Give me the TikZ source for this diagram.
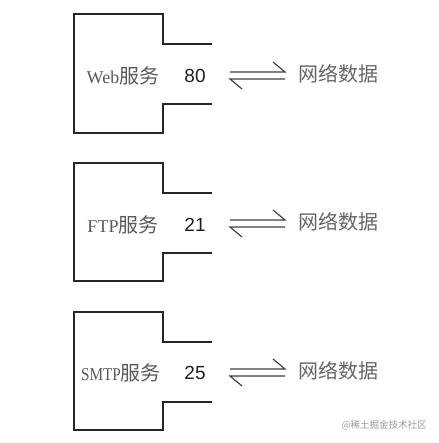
\documentclass[tikz,border=0pt]{standalone}
\usepackage{fontspec}
\setmainfont{Liberation Serif}
\newfontfamily\cjk{Noto Sans CJK SC}
\newfontfamily\numfont{Liberation Sans}
\newfontfamily\narrowserif[FakeStretch=0.85]{Liberation Serif}
\begin{document}
\begin{tikzpicture}[x=1pt,y=-1pt,
  boxline/.style={draw=black!85,line width=1.5pt},
  harp/.style={draw=black!75,line width=1.2pt},
  svc/.style={text=black!65,font=\fontsize{18}{18}\selectfont,inner sep=0pt},
  port/.style={text=black!88,font=\numfont\fontsize{19}{19}\selectfont,inner sep=0pt},
  net/.style={text=black!60,font=\cjk\fontsize{20}{20}\selectfont,inner sep=0pt},
  wm/.style={text=black!40,font=\cjk\fontsize{9.5}{10}\selectfont,inner sep=0pt}]
\useasboundingbox (0,0) rectangle (438,443);
\fill[white] (0,0) rectangle (438,443);

% Box 1
\draw[boxline] (212,44) -- (163,44) -- (163,14) -- (74,14) -- (74,133) -- (163,133) -- (163,104) -- (212,104);
\node[svc] (s1) at (123,76) {Web{\cjk\fontsize{20}{20}\selectfont 服务}};
\node[port] (p1) at (195,76) {80};
\coordinate (a1) at (230,72); \coordinate (b1) at (285,72); \coordinate (c1) at (273,62);
\coordinate (d1) at (285,79); \coordinate (e1) at (230,79); \coordinate (f1) at (242,89);
\draw[harp] (a1) -- (b1) -- (c1);
\draw[harp] (d1) -- (e1) -- (f1);
\node[net] (n1) at (338,74) {网络数据};

% Box 2
\draw[boxline] (212,193) -- (163,193) -- (163,163) -- (74,163) -- (74,281) -- (163,281) -- (163,253) -- (212,253);
\node[svc] (s2) at (123,225) {FTP{\cjk\fontsize{20}{20}\selectfont 服务}};
\node[port] (p2) at (195,225) {21};
\coordinate (a2) at (230,220); \coordinate (b2) at (285,220); \coordinate (c2) at (273,210);
\coordinate (d2) at (285,227); \coordinate (e2) at (230,227); \coordinate (f2) at (242,237);
\draw[harp] (a2) -- (b2) -- (c2);
\draw[harp] (d2) -- (e2) -- (f2);
\node[net] (n2) at (338,222) {网络数据};

% Box 3
\draw[boxline] (212,342) -- (163,342) -- (163,312) -- (74,312) -- (74,430) -- (163,430) -- (163,402) -- (212,402);
\node[svc] (s3) at (121,373) {{\narrowserif SMTP}{\cjk\fontsize{20}{20}\selectfont 服务}};
\node[port] (p3) at (195,373) {25};
\coordinate (a3) at (230,369); \coordinate (b3) at (285,369); \coordinate (c3) at (273,359);
\coordinate (d3) at (285,376); \coordinate (e3) at (230,376); \coordinate (f3) at (242,386);
\draw[harp] (a3) -- (b3) -- (c3);
\draw[harp] (d3) -- (e3) -- (f3);
\node[net] (n3) at (338,371) {网络数据};

\node[wm] (w) at (384,425) {@稀土掘金技术社区};
\end{tikzpicture}
\end{document}
